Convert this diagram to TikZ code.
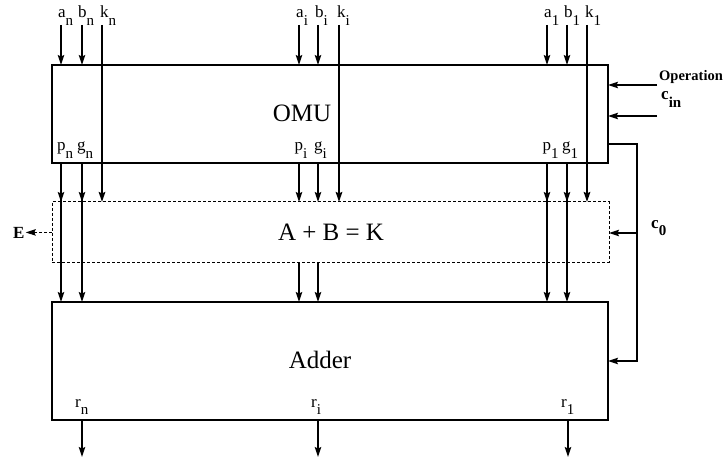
\documentclass[tikz,border=0pt]{standalone}
\usepackage{fontspec}
\setmainfont{Liberation Serif}
\usetikzlibrary{arrows.meta}
\usetikzlibrary{calc}

\newcommand{\sub}[2]{#1\raisebox{-0.45em}{\fontsize{15}{15}\selectfont #2}}

\tikzset{
  box/.style={draw,line width=1.5pt,inner sep=0pt,outer sep=0pt},
  arr/.style={-{Stealth[length=10pt,width=6.5pt,inset=1.5pt]},line width=1.3pt},
  bus/.style={arr,line width=1.8pt},
  lbl/.style={inner sep=0pt,anchor=base west,font=\fontsize{17}{17}\selectfont},
  boldlbl/.style={lbl,font=\fontsize{17}{17}\selectfont\bfseries},
  title/.style={inner sep=0pt,font=\fontsize{25}{25}\selectfont}
}

\begin{document}
\begin{tikzpicture}[x=1pt,y=-1pt]
\useasboundingbox (0,0) rectangle (727,462);

% blocks
\node[box,minimum width=556pt,minimum height=98pt] (omu) at (330,114) {};
\node[box,densely dashed,line width=1pt,minimum width=557pt,minimum height=60pt] (cmp) at (330.5,232) {};
\node[box,minimum width=556pt,minimum height=118pt] (adder) at (330,361) {};
\node[title] (omu-t) at (302,113) {OMU};
\node[title] (cmp-t) at (331,232) {A + B = K};
\node[title] (adder-t) at (320,360) {Adder};

% inputs
\coordinate (an) at (61,25);
\coordinate (bn) at (82,25);
\coordinate (kn) at (102,25);
\coordinate (ai) at (299,25);
\coordinate (bi) at (318,25);
\coordinate (ki) at (339,25);
\coordinate (a1) at (547,25);
\coordinate (b1) at (567,25);
\coordinate (k1) at (587,25);
\node[lbl] (an-l) at (58,18) {\sub{a}{n}};
\node[lbl] (bn-l) at (78,18) {\sub{b}{n}};
\node[lbl] (kn-l) at (100,18) {\sub{k}{n}};
\node[lbl] (ai-l) at (296,18) {\sub{a}{i}};
\node[lbl] (bi-l) at (315,18) {\sub{b}{i}};
\node[lbl] (ki-l) at (337,18) {\sub{k}{i}};
\node[lbl] (a1-l) at (544,18) {\sub{a}{1}};
\node[lbl] (b1-l) at (564,18) {\sub{b}{1}};
\node[lbl] (k1-l) at (585,18) {\sub{k}{1}};
\path[arr]
        (an) edge (an |- omu.north)
        (bn) edge (bn |- omu.north)
        (ai) edge (ai |- omu.north)
        (bi) edge (bi |- omu.north)
        (a1) edge (a1 |- omu.north)
        (b1) edge (b1 |- omu.north);
\path[bus]
        (kn) edge (kn |- cmp.north)
        (ki) edge (ki |- cmp.north)
        (k1) edge (k1 |- cmp.north);

% propagate / generate
\node[lbl] (pn-l) at (57,151) {\sub{p}{n}};
\node[lbl] (gn-l) at (77,151) {\sub{g}{n}};
\node[lbl] (pi-l) at (294.5,151) {\sub{p}{i}};
\node[lbl] (gi-l) at (314,151) {\sub{g}{i}};
\node[lbl] (p1-l) at (542.5,151) {\sub{p}{1}};
\node[lbl] (g1-l) at (562,151) {\sub{g}{1}};
\path[arr]
        (an |- omu.south) edge (an |- cmp.north)
        (bn |- omu.south) edge (bn |- cmp.north)
        (an |- omu.south) edge (an |- adder.north)
        (bn |- omu.south) edge (bn |- adder.north)
        (ai |- omu.south) edge (ai |- cmp.north)
        (bi |- omu.south) edge (bi |- cmp.north)
        (ai |- cmp.south) edge (ai |- adder.north)
        (bi |- cmp.south) edge (bi |- adder.north)
        (a1 |- omu.south) edge (a1 |- cmp.north)
        (b1 |- omu.south) edge (b1 |- cmp.north)
        (a1 |- omu.south) edge (a1 |- adder.north)
        (b1 |- omu.south) edge (b1 |- adder.north);

% results
\coordinate (rn) at (82,457);
\coordinate (ri) at (318,457);
\coordinate (r1) at (568,457);
\node[lbl] (rn-l) at (75,407) {\sub{r}{n}};
\node[lbl] (ri-l) at (311,407) {\sub{r}{i}};
\node[lbl] (r1-l) at (561,407) {\sub{r}{1}};
\path[arr]
        (rn |- adder.south) edge (rn)
        (ri |- adder.south) edge (ri)
        (r1 |- adder.south) edge (r1);

% control side
\coordinate (op) at (657,85);
\coordinate (cin) at (657,116);
\node[boldlbl,font=\fontsize{14.5}{14.5}\selectfont\bfseries] (op-l) at (659,81) {Operation};
\node[boldlbl] (cin-l) at (661,100) {\sub{c}{in}};
\path[arr]
        (op) edge (op -| omu.east)
        (cin) edge (cin -| omu.east);

% carry feedback
\coordinate (fbtop) at (637,144);
\coordinate (fbmid) at (637,233);
\coordinate (fbbot) at (637,361);
\node[boldlbl] (c0-l) at (651,228) {\sub{c}{0}};
\draw[arr] (fbtop -| omu.east) -- (fbtop) -- (fbbot) -- (fbbot -| adder.east);
\draw[arr] (fbmid) -- (fbmid -| cmp.east);

% equality flag
\node[boldlbl] (e-l) at (13,238) {E};
\draw[arr,densely dashed,line width=1pt] (cmp.west |- e-l.east) -- ([xshift=1pt]e-l.east);
\end{tikzpicture}
\end{document}
